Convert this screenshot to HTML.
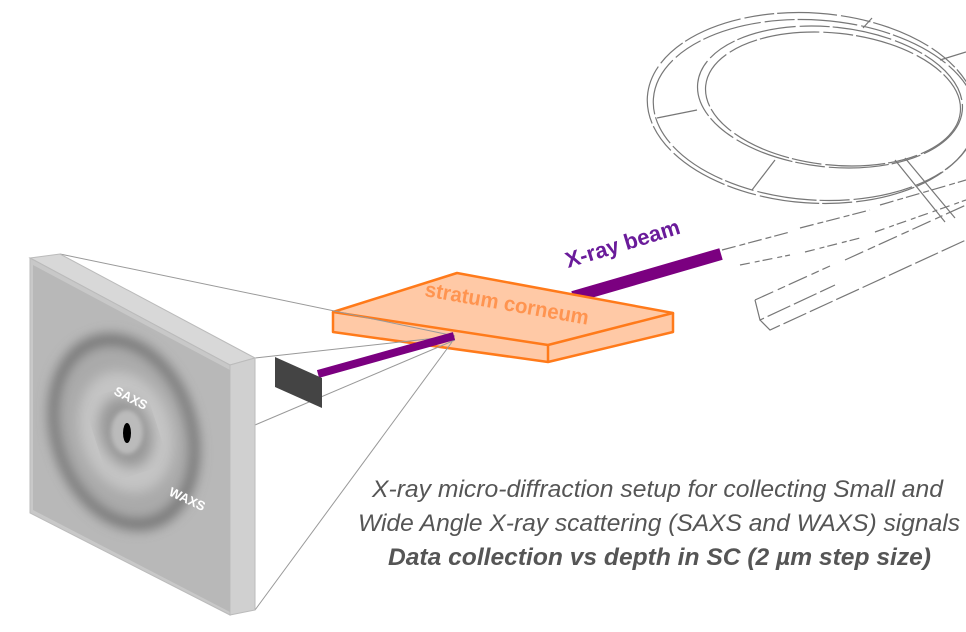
<!DOCTYPE html>
<html><head><meta charset="utf-8"><style>
html,body{margin:0;padding:0;background:#fff;}
svg{display:block;}
</style></head><body>
<svg width="966" height="632" viewBox="0 0 966 632" xmlns="http://www.w3.org/2000/svg">
<defs>
<filter id="b2"><feGaussianBlur stdDeviation="6"/></filter>
<filter id="b1"><feGaussianBlur stdDeviation="2"/></filter>
<clipPath id="face"><polygon points="33,265 230,370 230,612 33,510"/></clipPath>
</defs>
<!-- synchrotron ring sketch -->
<g fill="none" stroke="#777" stroke-width="1.2" stroke-dasharray="60 4 30 3">
<ellipse cx="812" cy="108" rx="165" ry="95" transform="rotate(4 812 108)"/>
<ellipse cx="815" cy="110" rx="162" ry="90" transform="rotate(4 815 110)"/>
<ellipse cx="830" cy="97" rx="133" ry="70" transform="rotate(6 830 97)"/>
<ellipse cx="833" cy="99" rx="128" ry="66" transform="rotate(6 833 99)"/>
</g>
<g fill="none" stroke="#777" stroke-width="1.2">
<line x1="657" y1="118" x2="697" y2="110"/>
<line x1="752" y1="190" x2="775" y2="160"/>
<line x1="863" y1="28" x2="872" y2="18"/>
<line x1="940" y1="60" x2="966" y2="52"/>
<line x1="895" y1="160" x2="945" y2="222"/>
<line x1="905" y1="158" x2="955" y2="218"/>
<path d="M722 250 L790 232 M800 228 L870 210 M880 205 L966 180" stroke-dasharray="14 4 6 3"/>
<path d="M740 265 L790 255 M805 252 L860 238 M875 232 L966 200" stroke-dasharray="10 5 5 3"/>
<path d="M755 300 L830 266 M845 260 L966 205" stroke-dasharray="20 5 8 4"/>
<path d="M755 300 L760 320 L835 285 M760 320 L770 330 L966 240" stroke-dasharray="25 4"/>
</g>
<!-- upper beam -->
<line x1="573" y1="297" x2="721" y2="254" stroke="#7b0080" stroke-width="12"/>
<!-- slab -->
<polygon points="333,312 457,273 673,313 673,332 548,362 333,332" fill="#ffc9a6"/>
<g fill="none" stroke="#ff7a1a" stroke-width="2.5" stroke-linejoin="round">
<polygon points="333,312 457,273 673,313 548,345"/>
<polyline points="333,312 333,332 548,362 673,332 673,313"/>
<line x1="548" y1="345" x2="548" y2="362"/>
</g>
<text x="0" y="0" transform="translate(424,296) rotate(10)" font-family="Liberation Sans, sans-serif" font-weight="bold" font-size="21" fill="#ff9450" textLength="166" lengthAdjust="spacingAndGlyphs">stratum corneum</text>
<text x="0" y="0" transform="translate(568,268) rotate(-17)" font-family="Liberation Sans, sans-serif" font-weight="bold" font-size="22" fill="#6a1b9a">X-ray beam</text>
<!-- projection lines -->
<g stroke="#999" stroke-width="1" fill="none">
<line x1="60" y1="254" x2="455" y2="336"/>
<line x1="255" y1="358" x2="455" y2="336"/>
<line x1="255" y1="425" x2="455" y2="340"/>
<line x1="255" y1="610" x2="452" y2="342"/>
</g>
<!-- lower beam -->
<line x1="318" y1="374" x2="454" y2="336" stroke="#7b0080" stroke-width="8"/>
<polygon points="275,357 322,378 322,408 275,387" fill="#444"/>
<!-- detector panel -->
<polygon points="30,258 60,254 255,358 230,365" fill="#d8d8d8" stroke="#bbb"/>
<polygon points="230,365 255,358 255,610 230,615" fill="#d0d0d0" stroke="#bbb"/>
<polygon points="30,258 230,365 230,615 30,513" fill="#c8c8c8" stroke="#bbb"/>
<g clip-path="url(#face)">
<rect x="0" y="240" width="260" height="400" fill="#b8b8b8"/>
<ellipse cx="124" cy="432" rx="72" ry="100" transform="rotate(-18 124 432)" fill="#6e6e6e" filter="url(#b2)"/>
<ellipse cx="124" cy="432" rx="64" ry="90" transform="rotate(-18 124 432)" fill="#aaa" filter="url(#b2)"/>
<ellipse cx="126" cy="432" rx="46" ry="62" transform="rotate(-18 126 432)" fill="#c4c4c4" filter="url(#b2)"/>
<ellipse cx="126" cy="432" rx="26" ry="36" transform="rotate(-18 126 432)" fill="#999" filter="url(#b2)"/>
<ellipse cx="127" cy="432" rx="16" ry="22" fill="#bbb" filter="url(#b1)"/>
<ellipse cx="127" cy="433" rx="4" ry="10" fill="#000"/>
</g>
<text transform="translate(113,394) rotate(27)" font-family="Liberation Sans, sans-serif" font-weight="bold" font-size="13" fill="#fff">SAXS</text>
<text transform="translate(168,495) rotate(25)" font-family="Liberation Sans, sans-serif" font-weight="bold" font-size="13" fill="#fff">WAXS</text>
<!-- caption -->
<g font-family="Liberation Sans Narrow, Liberation Sans, sans-serif" font-size="24" fill="#555" font-style="italic">
<text x="372" y="497" textLength="571" lengthAdjust="spacingAndGlyphs">X-ray micro-diffraction setup for collecting Small and</text>
<text x="358" y="531" textLength="602" lengthAdjust="spacingAndGlyphs">Wide Angle X-ray scattering (SAXS and WAXS) signals</text>
<text x="388" y="565" textLength="543" lengthAdjust="spacingAndGlyphs" font-weight="bold">Data collection vs depth in SC (2 µm step size)</text>
</g>
</svg>
</body></html>
